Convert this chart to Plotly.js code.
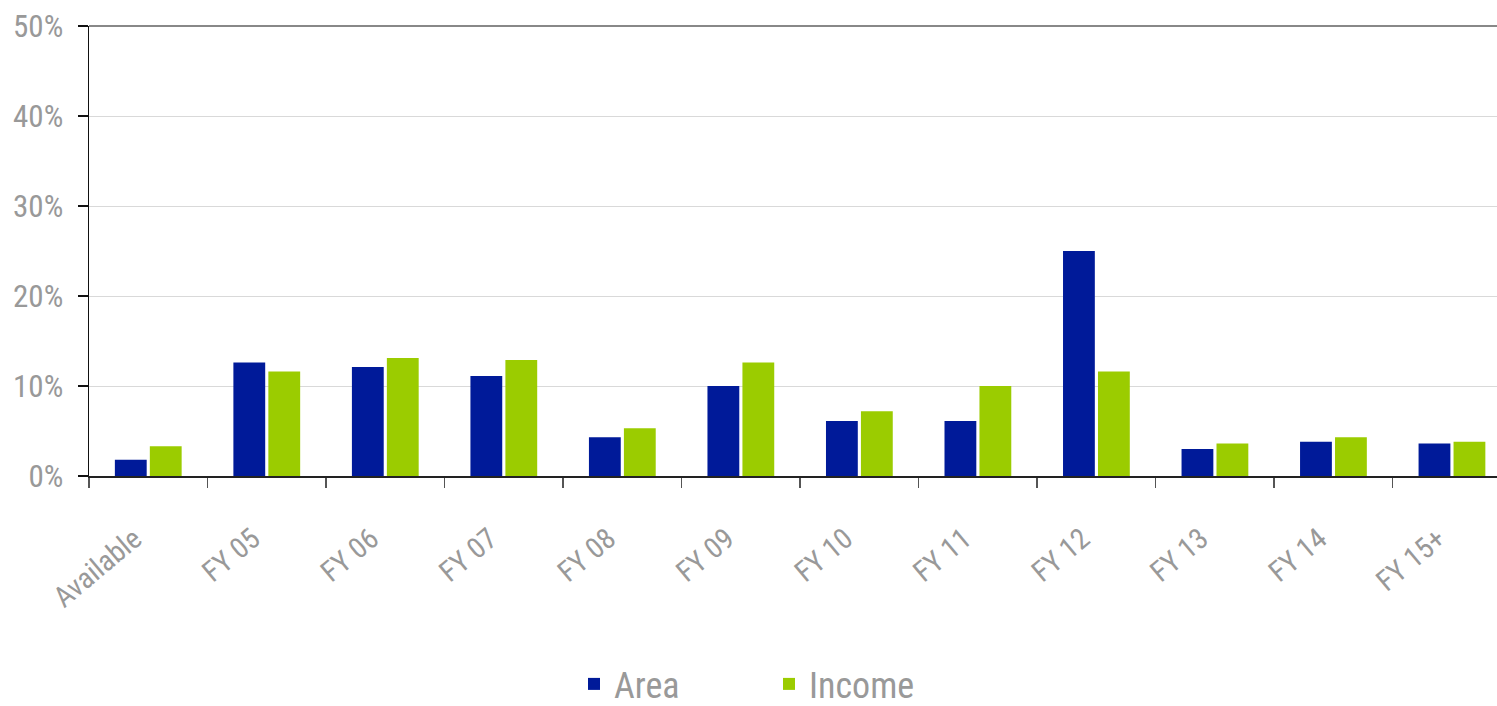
<!DOCTYPE html>
<html>
<head>
<meta charset="utf-8">
<script src="https://cdn.plot.ly/plotly-3.0.1.min.js"></script>
<style>html,body{margin:0;padding:0;background:#fff;}#chart{width:1497px;height:706px;}</style>
</head>
<body>
<div id="chart"></div>
<script>
const categories = ["Available","FY 05","FY 06","FY 07","FY 08","FY 09","FY 10","FY 11","FY 12","FY 13","FY 14","FY 15+"];
const areaValues = [1.8, 12.6, 12.1, 11.1, 4.3, 10.0, 6.1, 6.1, 25.0, 3.0, 3.8, 3.6];
const incomeValues = [3.3, 11.6, 13.1, 12.9, 5.3, 12.6, 7.2, 10.0, 11.6, 3.6, 4.3, 3.8];
const yTickValues = [0, 10, 20, 30, 40, 50];
const yTickLabels = ["0%","10%","20%","30%","40%","50%"];

const FONT = '"Roboto Condensed", "DejaVu Sans Condensed", sans-serif';

const traces = [
  {type:'bar', name:'Area', x:categories, y:areaValues, marker:{color:'#001a99'}, hoverinfo:'x+y'},
  {type:'bar', name:'Income', x:categories, y:incomeValues, marker:{color:'#9bcc00'}, hoverinfo:'x+y'}
];

const layout = {
  width:1497, height:706,
  margin:{l:89, r:0, t:26, b:230, pad:0},
  paper_bgcolor:'#fff', plot_bgcolor:'#fff',
  font:{family:FONT, color:'#999'},
  barmode:'group', bargap:0.41, bargroupgap:0.09,
  showlegend:true,
  legend:{orientation:'h', x:(574-89)/1408, xanchor:'left', yref:'container', y:22/706, yanchor:'middle',
          font:{family:FONT, size:36, color:'#999'}, entrywidth:150, entrywidthmode:'pixels',
          bgcolor:'rgba(0,0,0,0)', borderwidth:0, tracegroupgap:0},
  xaxis:{type:'category', range:[-0.5, 11.38], tickson:'boundaries', ticks:'outside', ticklen:10,
         tickcolor:'#555', tickwidth:1.5, showline:true, linecolor:'#222', linewidth:1.5,
         showgrid:false, zeroline:false, tickangle:-40, tickfont:{family:FONT, size:29, color:'#999'},
         ticklabelstandoff:33, ticklabelshift:-14, fixedrange:true},
  yaxis:{range:[0,50], tickvals:yTickValues, ticktext:yTickLabels, ticks:'outside', ticklen:10,
         tickcolor:'#111', tickwidth:1.5, showline:true, linecolor:'#111', linewidth:1.5,
         showgrid:true, gridcolor:'#d9d9d9', gridwidth:1, zeroline:false,
         tickfont:{family:FONT, size:31, color:'#999'}, ticklabelstandoff:8, fixedrange:true},
  shapes:[{type:'line', xref:'paper', yref:'paper', x0:0, x1:1, y0:1, y1:1, line:{color:'#888', width:2}}]
};

Plotly.newPlot('chart', traces, layout, {displayModeBar:false, staticPlot:true});
</script>
</body>
</html>
